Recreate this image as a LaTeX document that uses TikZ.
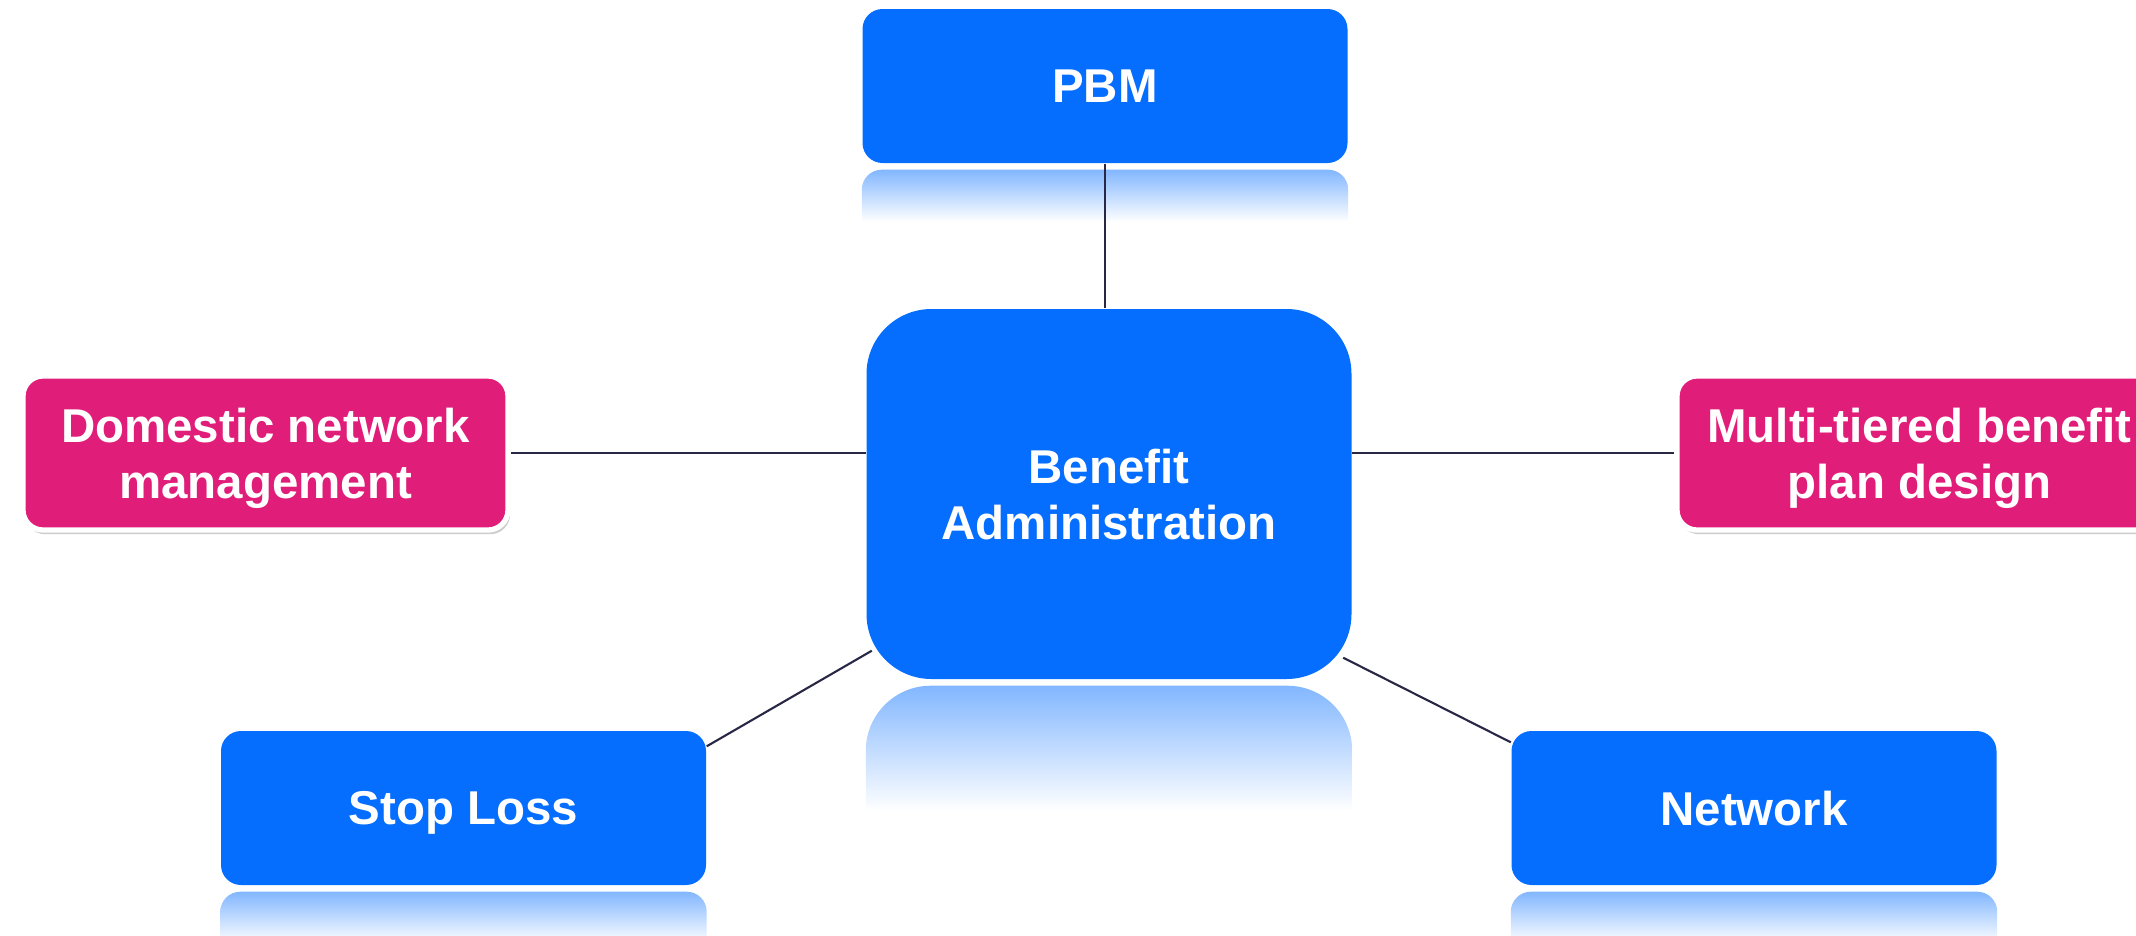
\documentclass[tikz,border=0pt]{standalone}
\usepackage{fontspec}
\setmainfont{Liberation Sans}
\usetikzlibrary{calc,shadows,backgrounds}
\definecolor{boxblue}{RGB}{5,110,255}
\definecolor{boxpink}{RGB}{224,30,122}
\definecolor{linkgray}{RGB}{40,40,70}
\tikzset{
  topic/.style={rectangle, rounded corners=0.2cm, fill=boxblue, text=white,
    font=\bfseries\fontsize{13.5}{16}\selectfont, align=center, text depth=0pt,
    minimum width=4.85cm, minimum height=1.54cm, inner sep=0pt},
  hub/.style={topic, rounded corners=0.65cm, minimum height=3.70cm},
  extra/.style={topic, fill=boxpink, draw=white, line width=1.5pt,
    drop shadow={shadow xshift=0.6pt, shadow yshift=-1.2pt, opacity=0.2, fill=black}},
  link/.style={draw=linkgray, line width=0.6pt}
}
\begin{document}
\begin{tikzpicture}
        \useasboundingbox (0,0) rectangle (21.36,-9.35);
        %% Boxes
        \node[hub] (admin) at (11.09,-4.94) {Benefit\\Administration};
        \node[topic] (pbm) at (11.05,-0.86) {PBM};
        \node[extra] (dom) at (2.655,-4.53) {Domestic network\\management};
        \node[extra] (multi) at (19.195,-4.53) {Multi-tiered benefit\\plan design};
        \node[topic] (stop) at (4.635,-8.08) {Stop Loss};
        \node[topic] (net) at (17.54,-8.08) {Network};
        %% Reflections and links
        \begin{scope}[on background layer]
            \foreach \n/\len/\rad in {pbm/0.52/0.2, admin/1.25/0.65, stop/0.52/0.2, net/0.52/0.2}
                \shade[top color=boxblue!50, bottom color=white, rounded corners=\rad cm]
                    ($(\n.south west)+(0,-0.06-\len)$) -- ($(\n.south west)+(0,-0.06)$)
                    -- ($(\n.south east)+(0,-0.06)$) -- ($(\n.south east)+(0,-0.06-\len)$);
            \draw[link] (pbm.south) -- (pbm.south |- admin.north);
            \draw[link] (dom.east) -- (dom.east -| admin.west);
            \draw[link] (multi.west) -- (multi.west -| admin.east);
            \draw[link] ([yshift=-0.16cm]stop.north east) -- ($(admin.south west)+(0.06,0.29)$);
            \draw[link] ([yshift=-0.12cm]net.north west) -- ($(admin.south east)+(-0.09,0.22)$);
        \end{scope}
    \end{tikzpicture}
\end{document}
